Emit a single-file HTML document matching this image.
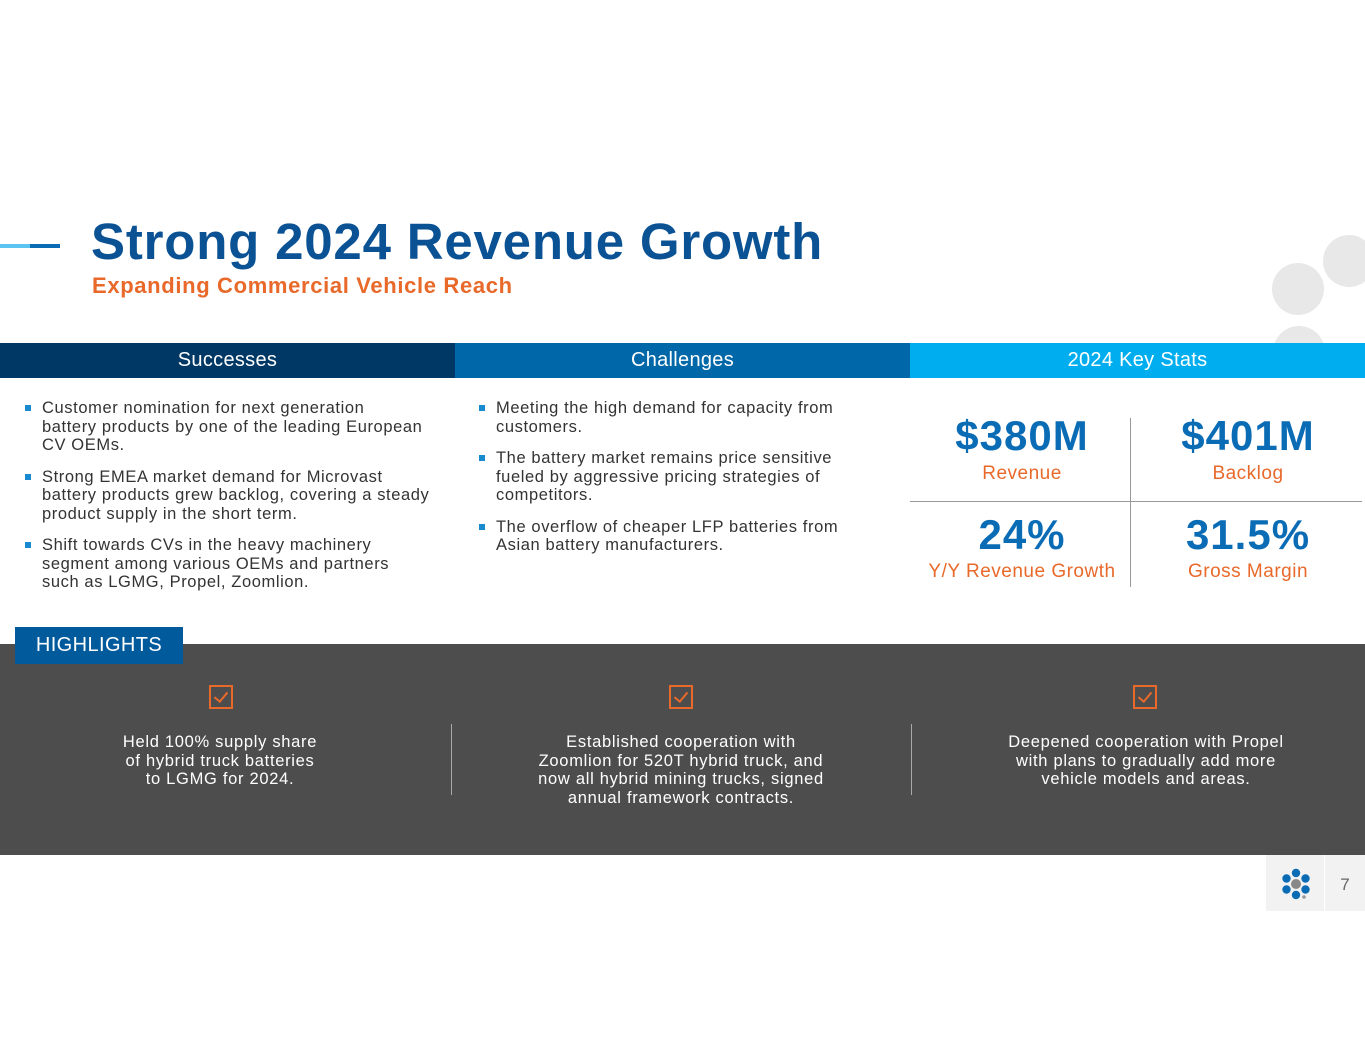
<!DOCTYPE html>
<html><head><meta charset="utf-8"><style>
*{margin:0;padding:0;box-sizing:border-box}
body{width:1365px;height:1055px;position:relative;background:#fff;font-family:"Liberation Sans",sans-serif;overflow:hidden}
.a{position:absolute}
.circ{position:absolute;border-radius:50%;background:#e8e8e8}
.hd{position:absolute;top:343px;height:35px;color:#fff;font-size:20px;text-align:center;line-height:35px;letter-spacing:0.3px}
ul{list-style:none}
li{position:relative;padding-left:27px;font-size:16.5px;line-height:18.5px;color:#333;margin-bottom:13px;letter-spacing:0.6px;white-space:nowrap}
li:before{content:"";position:absolute;left:10px;top:6px;width:6px;height:6px;background:#1a8ad0}
.big{position:absolute;width:220px;text-align:center;color:#0b6cb6;font-weight:bold;font-size:42px;letter-spacing:1px}
.lbl{position:absolute;width:220px;text-align:center;color:#e8692a;font-size:19px;letter-spacing:0.5px}
.hl{position:absolute;top:733px;width:340px;text-align:center;color:#fff;font-size:16.5px;line-height:18.5px;letter-spacing:0.7px}
.chk{position:absolute;top:685px;width:24px;height:24px;border:2px solid #e8692a}
.chk:after{content:"";position:absolute;left:6px;top:2px;width:6px;height:11px;border-right:2px solid #e8692a;border-bottom:2px solid #e8692a;transform:rotate(40deg)}
</style></head><body>
<div class="circ" style="left:1272px;top:263px;width:52px;height:52px"></div>
<div class="circ" style="left:1323px;top:235px;width:52px;height:52px"></div>
<div class="circ" style="left:1273px;top:326px;width:52px;height:52px"></div>
<div class="a" style="left:0;top:244px;width:30px;height:4px;background:#5bc4f1"></div>
<div class="a" style="left:30px;top:244px;width:30px;height:4px;background:#0b6cb6"></div>
<div class="a" style="left:91px;top:212px;font-size:51px;font-weight:bold;color:#0a5294;letter-spacing:0.8px">Strong 2024 Revenue Growth</div>
<div class="a" style="left:92px;top:273px;font-size:22px;font-weight:bold;color:#e8692a;letter-spacing:0.65px">Expanding Commercial Vehicle Reach</div>
<div class="hd" style="left:0;width:455px;background:#003865">Successes</div>
<div class="hd" style="left:455px;width:455px;background:#0067a8">Challenges</div>
<div class="hd" style="left:910px;width:455px;background:#00aeef">2024 Key Stats</div>
<ul class="a" style="left:15px;top:399px;width:425px">
<li>Customer nomination for next generation<br>battery products by one of the leading European<br>CV OEMs.</li>
<li>Strong EMEA market demand for Microvast<br>battery products grew backlog, covering a steady<br>product supply in the short term.</li>
<li>Shift towards CVs in the heavy machinery<br>segment among various OEMs and partners<br>such as LGMG, Propel, Zoomlion.</li>
</ul>
<ul class="a" style="left:469px;top:399px;width:385px">
<li>Meeting the high demand for capacity from<br>customers.</li>
<li>The battery market remains price sensitive<br>fueled by aggressive pricing strategies of<br>competitors.</li>
<li>The overflow of cheaper LFP batteries from<br>Asian battery manufacturers.</li>
</ul>
<div class="big" style="left:912px;top:412px">$380M</div>
<div class="lbl" style="left:912px;top:463px">Revenue</div>
<div class="big" style="left:1138px;top:412px">$401M</div>
<div class="lbl" style="left:1138px;top:463px">Backlog</div>
<div class="big" style="left:912px;top:511px">24%</div>
<div class="lbl" style="left:912px;top:561px">Y/Y Revenue Growth</div>
<div class="big" style="left:1138px;top:511px">31.5%</div>
<div class="lbl" style="left:1138px;top:561px">Gross Margin</div>
<div class="a" style="left:1130px;top:418px;width:1px;height:169px;background:#999"></div>
<div class="a" style="left:910px;top:501px;width:452px;height:1px;background:#999"></div>
<div class="a" style="left:0;top:644px;width:1365px;height:211px;background:#4d4d4d"></div>
<div class="a" style="left:15px;top:627px;width:168px;height:37px;background:#005a9c;color:#fff;font-size:20px;line-height:37px;text-align:center;letter-spacing:0.4px">HIGHLIGHTS</div>
<div class="chk" style="left:209px"></div>
<div class="chk" style="left:669px"></div>
<div class="chk" style="left:1133px"></div>
<div class="a" style="left:451px;top:724px;width:1px;height:71px;background:#aaa"></div>
<div class="a" style="left:911px;top:724px;width:1px;height:71px;background:#aaa"></div>
<div class="hl" style="left:50px">Held 100% supply share<br>of hybrid truck batteries<br>to LGMG for 2024.</div>
<div class="hl" style="left:511px">Established cooperation with<br>Zoomlion for 520T hybrid truck, and<br>now all hybrid mining trucks, signed<br>annual framework contracts.</div>
<div class="hl" style="left:976px">Deepened cooperation with Propel<br>with plans to gradually add more<br>vehicle models and areas.</div>
<div class="a" style="left:1266px;top:855px;width:58px;height:56px;background:#f2f2f2">
<svg width="58" height="56">
<circle cx="30" cy="29" r="5" fill="#888"/>
<circle cx="30" cy="18" r="4.2" fill="#0b6cb6"/><circle cx="39.5" cy="23.5" r="4.2" fill="#0b6cb6"/><circle cx="39.5" cy="34.5" r="4.2" fill="#0b6cb6"/>
<circle cx="30" cy="40" r="4.2" fill="#0b6cb6"/><circle cx="20.5" cy="34.5" r="4.2" fill="#0b6cb6"/><circle cx="20.5" cy="23.5" r="4.2" fill="#0b6cb6"/>
<circle cx="38" cy="42" r="1.8" fill="#999"/></svg></div>
<div class="a" style="left:1325px;top:855px;width:40px;height:56px;background:#f2f2f2;color:#666;font-size:17px;line-height:60px;text-align:center">7</div>
</body></html>
